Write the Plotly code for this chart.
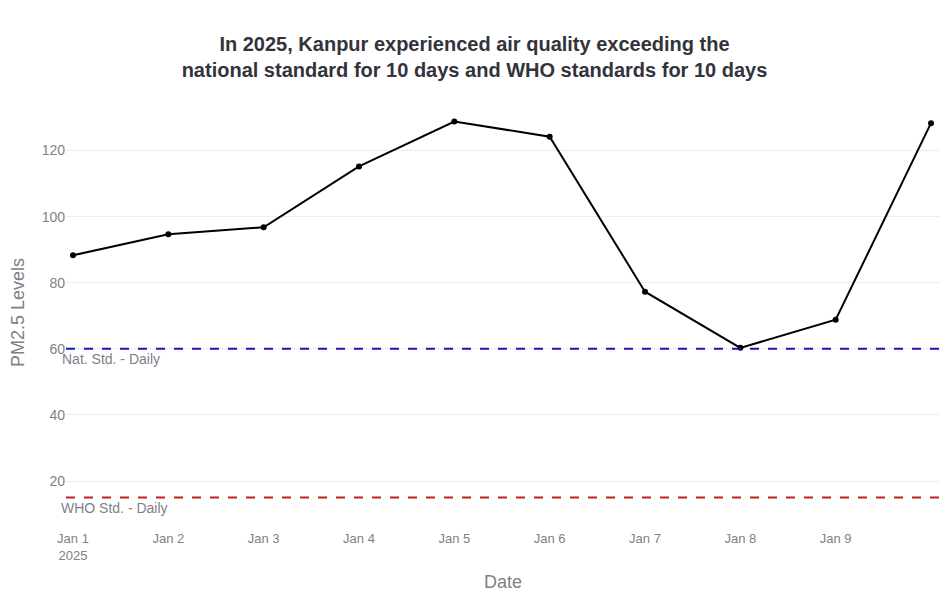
import plotly.graph_objects as go

dates = ["2025-01-01", "2025-01-02", "2025-01-03", "2025-01-04", "2025-01-05",
         "2025-01-06", "2025-01-07", "2025-01-08", "2025-01-09", "2025-01-10"]
pm25 = [88.3, 94.7, 96.8, 115.2, 128.8, 124.2, 77.3, 60.3, 68.8, 128.3]

nat_std = 60
who_std = 15

grey = "#7f7f87"

fig = go.Figure()

fig.add_trace(go.Scatter(x=dates, y=pm25,
                mode='lines+markers',
                name='PM2.5',
                line=dict(color='black', width=2),
                marker=dict(color='black', size=6)))

fig.add_hline(y=nat_std, line=dict(color='#1414c8', width=2, dash='dash'),
              annotation=dict(text='Nat. Std. - Daily', xshift=-6,
                              font=dict(size=14, color=grey)),
              annotation_position='bottom left')
fig.add_hline(y=who_std, line=dict(color='#c41e1e', width=2, dash='dash'),
              annotation=dict(text='WHO Std. - Daily', xshift=-7,
                              font=dict(size=14, color=grey)),
              annotation_position='bottom left')

fig.update_layout(
    width=933, height=584,
    template='plotly_white',
    title=dict(
        text="<b>In 2025, Kanpur experienced air quality exceeding the<br>"
             "national standard for 10 days and WHO standards for 10 days</b>",
        x=0.5, xanchor='center',
        y=0.926, yanchor='top',
        font=dict(size=20, color='#33333d')),
    font=dict(family='Liberation Sans, Arial, sans-serif', size=14, color=grey),
    margin=dict(l=58, r=1, t=93, b=68),
    xaxis=dict(
        title=dict(text='Date', font=dict(size=18, color=grey)),
        range=['2024-12-31 22:14', '2025-01-10 02:16'],
        showgrid=False,
        automargin=False,
        ticks='outside', ticklen=2, tickcolor='rgba(0,0,0,0)',
        tickfont=dict(size=13, color=grey)),
    yaxis=dict(
        title=dict(text='PM2.5 Levels', font=dict(size=18, color=grey)),
        range=[7, 135],
        gridcolor='#ededed',
        zeroline=False,
        automargin=False,
        tickfont=dict(size=14, color=grey)),
    showlegend=False,
    plot_bgcolor='white',
)

fig.write_html("out.html")
